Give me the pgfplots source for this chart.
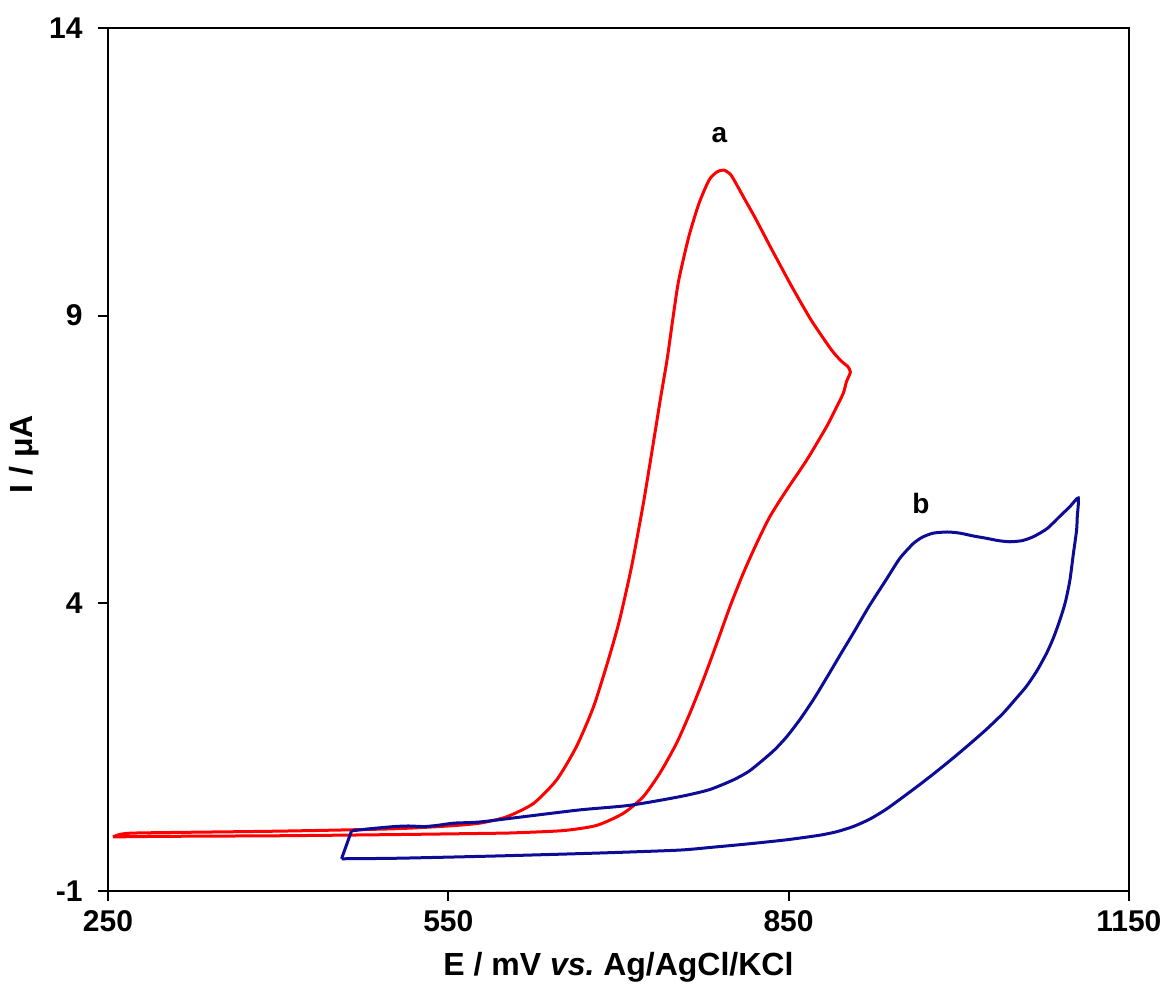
\documentclass[border=0pt]{standalone}
\usepackage{fontspec}
\setmainfont{Liberation Sans}
\usepackage{pgfplots}
\pgfplotsset{compat=1.18}
\definecolor{cvred}{RGB}{255,0,0}
\definecolor{cvblue}{RGB}{12,12,150}
\begin{document}
\begin{tikzpicture}
\path[use as bounding box] (-108pt,-102pt) rectangle (1055pt,891pt);
\begin{axis}[
  scale only axis,
  width=1021pt, height=863pt,
  xmin=250, xmax=1150, ymin=-1, ymax=14,
  xtick={250,550,850,1150}, ytick={-1,4,9,14},
  tick align=outside, tick pos=left,
  major tick length=10pt,
  every tick/.style={black, line width=2pt},
  axis line style={black, line width=2.5pt},
  /pgf/number format/assume math mode=true,
  /pgf/number format/1000 sep={},
  ticklabel style={font=\fontsize{30}{33}\selectfont\bfseries},
  xticklabel style={anchor=north, yshift=-6pt},
  yticklabel style={anchor=east, xshift=-12pt},
  xlabel={E / mV \textit{vs.}\kern-0.1em{} Ag/AgCl/KCl},
  ylabel={I / μA},
  label style={font=\fontsize{32}{36}\selectfont\bfseries},
  xlabel style={at={(axis description cs:0.5,-0.088)}, anchor=center},
  ylabel style={at={(axis description cs:-0.082,0.506)}, anchor=center},
  clip=false,
]
% curve a (red)
\addplot[cvred, line width=3pt, smooth, tension=0.4] coordinates {
(254.4,-0.06)(262,-0.01)(280,0.01)(400,0.04)(500,0.08)(550,0.13)(578,0.18)
(601.5,0.29)(625,0.52)(645.5,0.93)(663,1.51)(678,2.20)(691,3.01)(701,3.71)
(711.6,4.64)(722,5.74)(730.7,6.78)(737,7.55)(743,8.25)(748,8.95)(753,9.60)
(762,10.37)(771,10.95)(780,11.36)(787,11.50)(793,11.53)(799,11.45)(805,11.25)
(812,11.00)(820,10.72)(828,10.42)(836,10.12)(853,9.50)(870,8.92)(888,8.40)
(897,8.20)(902,8.12)(904.5,8.02)
(901,7.85)(898.2,7.65)(891,7.36)(883.5,7.07)(866,6.49)(848.3,5.97)(833.6,5.51)
(821.8,5.04)(810,4.52)(798.3,3.94)(786.6,3.30)(774.8,2.67)(763,2.09)(751.3,1.57)
(736.6,1.05)(721.9,0.64)(704.3,0.35)(680.8,0.14)(651.4,0.05)(607,0.01)(578,0.00)
(500,-0.02)(400,-0.04)(300,-0.05)(254.4,-0.06)
};
% curve b (blue)
\addplot[cvblue, line width=3pt, smooth, tension=0.4] coordinates {
(464.7,0.045)(480,0.08)(502.5,0.12)(515,0.13)(528.9,0.12)(540,0.14)(555.3,0.18)
(577.9,0.20)(620,0.30)(666.1,0.41)(710.2,0.49)(754.2,0.64)(780,0.76)(801.2,0.93)
(815,1.08)(827.6,1.28)(838,1.46)(848.3,1.68)(860,1.98)(872,2.33)(884,2.72)
(896,3.12)(907,3.48)(921,3.95)(936,4.41)(948,4.78)(960,5.04)(968,5.15)(977.5,5.22)
(990,5.24)(1001,5.22)(1013,5.17)(1024.6,5.13)(1035,5.09)(1045,5.07)(1056,5.09)
(1066,5.16)(1078,5.30)(1089,5.51)(1098,5.68)(1105.4,5.83)
(1104.5,5.50)(1103.9,5.27)(1101,4.85)(1098,4.40)(1094,4.02)(1089.2,3.71)
(1083.5,3.40)(1077.4,3.13)(1069,2.83)(1059.8,2.56)(1049,2.31)(1039.2,2.09)
(1025,1.82)(1010,1.56)(995,1.31)(980,1.07)(965,0.84)(950,0.62)(936,0.42)
(921.7,0.25)(907,0.12)(892.3,0.03)(877.6,-0.03)(848.3,-0.11)(815,-0.18)
(782.5,-0.24)(753,-0.29)(683,-0.34)(595,-0.39)(507,-0.43)(455.9,-0.44)
};
\addplot[cvblue, line width=3pt] coordinates {(455.9,-0.44)(464.7,0.045)};
\node[font=\fontsize{28}{32}\selectfont\bfseries] at (axis cs:789,12.14) {a};
\node[font=\fontsize{28}{32}\selectfont\bfseries] at (axis cs:966.7,5.74) {b};
\end{axis}
\end{tikzpicture}
\end{document}
